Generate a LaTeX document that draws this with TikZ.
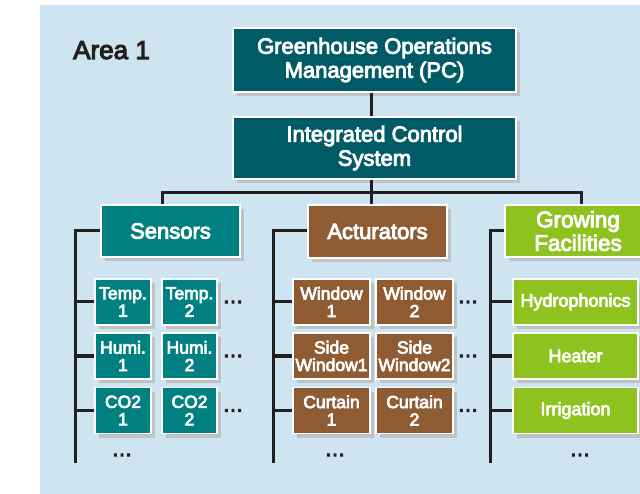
\documentclass[tikz,border=0pt]{standalone}
\usepackage{fontspec}
\setmainfont{Liberation Sans}
\newfontfamily\boxfont[FakeBold=4]{Liberation Sans}
\usetikzlibrary{shadows}
\definecolor{bgc}{RGB}{206,228,241}
\definecolor{tealdark}{RGB}{0,91,103}
\definecolor{tealc}{RGB}{0,128,128}
\definecolor{brownc}{RGB}{143,91,51}
\definecolor{greenc}{RGB}{141,194,31}
\definecolor{linec}{RGB}{35,31,32}
\definecolor{shadowc}{RGB}{190,194,196}
\tikzset{
  box/.style={draw=white, line width=1.2pt, text=white, align=center, inner sep=0pt,
    drop shadow={shadow xshift=4pt, shadow yshift=-4pt, opacity=1, fill=shadowc}},
  bigbox/.style={box, font=\boxfont\fontsize{22}{24}\selectfont},
  smallbox/.style={box, font=\boxfont\fontsize{17.5}{17.5}\selectfont, minimum height=46pt},
  growbox/.style={box, font=\boxfont\fontsize{18}{18}\selectfont, minimum height=46pt, minimum width=125pt, fill=greenc},
  wire/.style={draw=linec, line width=3pt, line join=miter},
  dotsnode/.style={font=\boxfont\fontsize{21}{21}\selectfont, inner sep=0pt, text=linec}
}
\begin{document}
\begin{tikzpicture}[x=1pt,y=-1pt]
\useasboundingbox (0,0) rectangle (640,494);
\clip (0,0) rectangle (640,494);
\fill[bgc] (40,5) rectangle (640,494);

\node[anchor=base west, font=\boxfont\fontsize{26}{26}\selectfont, inner sep=0pt, text=linec] (area) at (73,59) {Area 1};

% top boxes
\node[bigbox, fill=tealdark, minimum width=283pt, minimum height=64pt] (gom) at (374.5,60) {Greenhouse Operations\\Management (PC)};
\node[bigbox, fill=tealdark, minimum width=283pt, minimum height=62pt] (ics) at (374.5,148) {Integrated Control\\System};

% bus coordinates
\coordinate (b1) at (162,193);
\coordinate (b2) at (371,193);
\coordinate (b3) at (581,193);

% category boxes
\node[bigbox, fill=tealc, minimum width=139pt, minimum height=52pt] (sens) at (170.5,231) {Sensors};
\node[bigbox, fill=brownc, minimum width=139pt, minimum height=53pt] (act) at (377.5,231.5) {Acturators};
\node[bigbox, fill=greenc, minimum width=146pt, minimum height=52pt, font=\boxfont\fontsize{22.5}{23.5}\selectfont] (grow) at (578,231) {Growing\\Facilities};

% vertical rails
\coordinate (v1t) at (75,231);  \coordinate (v1b) at (75,463);
\coordinate (v2t) at (273,231); \coordinate (v2b) at (273,463);
\coordinate (v3t) at (490,231); \coordinate (v3b) at (490,463);

% sensor items
\node[smallbox, fill=tealc, minimum width=56pt] (s11) at (123,302) {Temp.\\1};
\node[smallbox, fill=tealc, minimum width=55pt] (s12) at (189.5,302) {Temp.\\2};
\node[smallbox, fill=tealc, minimum width=56pt] (s21) at (123,356) {Humi.\\1};
\node[smallbox, fill=tealc, minimum width=55pt] (s22) at (189.5,356) {Humi.\\2};
\node[smallbox, fill=tealc, minimum width=56pt] (s31) at (123,410.5) {CO2\\1};
\node[smallbox, fill=tealc, minimum width=55pt] (s32) at (189.5,410.5) {CO2\\2};

% actuator items
\node[smallbox, fill=brownc, minimum width=77pt] (a11) at (331.5,302) {Window\\1};
\node[smallbox, fill=brownc, minimum width=77pt] (a12) at (414.5,302) {Window\\2};
\node[smallbox, fill=brownc, minimum width=77pt] (a21) at (331.5,356) {Side\\Window1};
\node[smallbox, fill=brownc, minimum width=77pt] (a22) at (414.5,356) {Side\\Window2};
\node[smallbox, fill=brownc, minimum width=77pt] (a31) at (331.5,410.5) {Curtain\\1};
\node[smallbox, fill=brownc, minimum width=77pt] (a32) at (414.5,410.5) {Curtain\\2};

% growing items
\node[growbox] (g1) at (575.5,302) {Hydrophonics};
\node[growbox] (g2) at (575.5,356) {Heater};
\node[growbox] (g3) at (575.5,410.5) {Irrigation};

% dots
\node[dotsnode] (sd1) at (233,302) {…};
\node[dotsnode] (sd2) at (233,356) {…};
\node[dotsnode] (sd3) at (233,410.5) {…};
\node[dotsnode] (sd4) at (122,455) {…};
\node[dotsnode] (ad1) at (468,302) {…};
\node[dotsnode] (ad2) at (468,356) {…};
\node[dotsnode] (ad3) at (468,410.5) {…};
\node[dotsnode] (ad4) at (335,455) {…};
\node[dotsnode] (gd4) at (580,455) {…};

% connectors
\draw[wire] (gom.south -| b2) -- (ics.north -| b2);
\draw[wire] (ics.south -| b2) -- (b2);
\draw[wire] (sens.north -| b1) -- (b1) -- (b3) -- (grow.north -| b3);
\draw[wire] (b2) -- (act.north -| b2);

\draw[wire] (sens.west |- v1t) -- (v1t) -- (v1b);
\draw[wire] (act.west |- v2t) -- (v2t) -- (v2b);
\draw[wire] (grow.west |- v3t) -- (v3t) -- (v3b);

\draw[wire] (v1t |- s11.west) -- (s11.west);
\draw[wire] (v1t |- s21.west) -- (s21.west);
\draw[wire] (v1t |- s31.west) -- (s31.west);
\draw[wire] (v2t |- a11.west) -- (a11.west);
\draw[wire] (v2t |- a21.west) -- (a21.west);
\draw[wire] (v2t |- a31.west) -- (a31.west);
\draw[wire] (v3t |- g1.west) -- (g1.west);
\draw[wire] (v3t |- g2.west) -- (g2.west);
\draw[wire] (v3t |- g3.west) -- (g3.west);
\end{tikzpicture}
\end{document}
